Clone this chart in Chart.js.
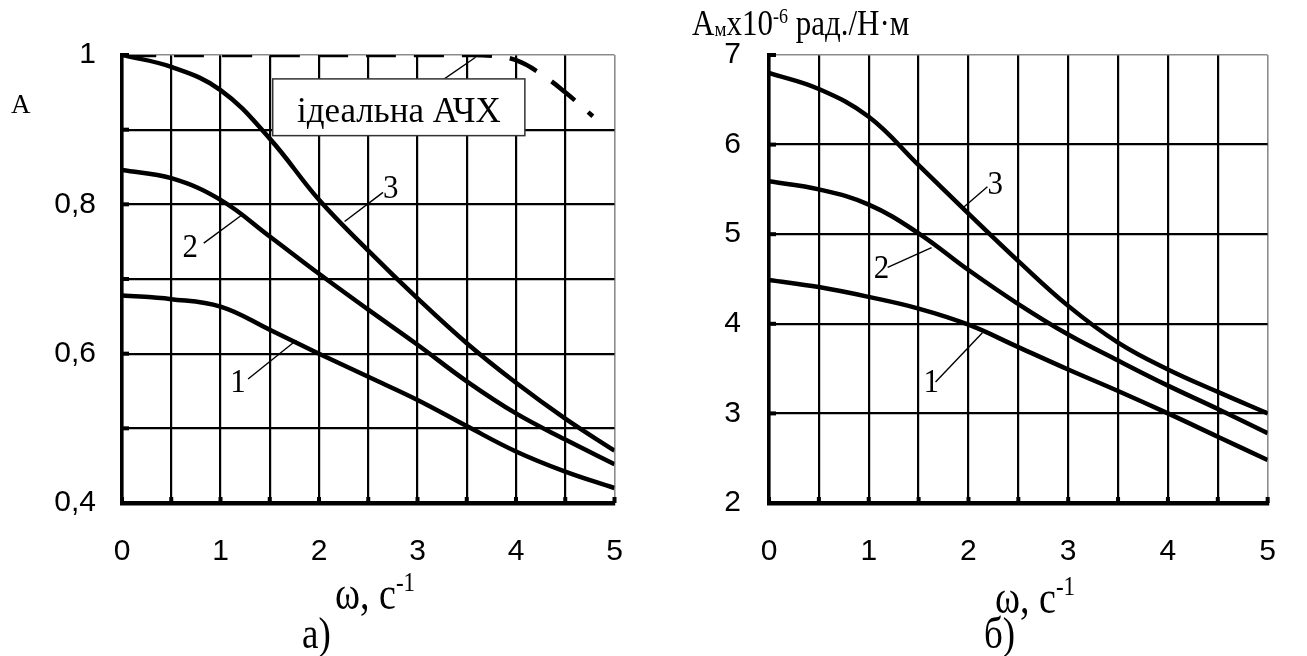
<!DOCTYPE html>
<html>
<head>
<meta charset="utf-8">
<script src="https://cdn.jsdelivr.net/npm/chart.js@4.4.1/dist/chart.umd.min.js"></script>
<style>
  html, body { margin: 0; padding: 0; background: #fff; }
  #wrap { position: relative; width: 1307px; height: 656px; overflow: hidden; }
  .panel { position: absolute; top: 0; height: 656px; }
  #pa { left: 0; width: 660px; }
  #pb { left: 660px; width: 647px; }
</style>
</head>
<body>
<div id="wrap">
  <div class="panel" id="pa"><canvas id="ca" width="660" height="656"></canvas></div>
  <div class="panel" id="pb"><canvas id="cb" width="647" height="656"></canvas></div>
</div>
<script>
// angular frequency grid, s^-1
const omega = [0, 0.5, 1, 1.5, 2, 2.5, 3, 3.5, 4, 4.5, 5];

// panel а): normalised amplitude A for curves 1..3
const curveA1 = [0.678, 0.673, 0.663, 0.632, 0.600, 0.569, 0.538, 0.503, 0.469, 0.442, 0.42];
const curveA2 = [0.846, 0.835, 0.806, 0.757, 0.707, 0.659, 0.612, 0.563, 0.520, 0.485, 0.452];
const curveA3 = [1.0, 0.984, 0.953, 0.888, 0.806, 0.738, 0.674, 0.614, 0.561, 0.513, 0.47];

// ideal amplitude-frequency response (dashed)
const idealOmega = [0, 1, 2, 3, 3.5, 3.75, 4, 4.25, 4.5, 4.78];
const idealA = [1, 1, 1, 1, 1, 0.999, 0.993, 0.975, 0.95, 0.918];

// panel б): A_м ×10^-6 rad/N·m for curves 1..3
const curveB1 = [4.49, 4.41, 4.30, 4.17, 3.99, 3.74, 3.49, 3.25, 3.0, 2.74, 2.48];
const curveB2 = [5.59, 5.50, 5.33, 5.01, 4.60, 4.22, 3.88, 3.59, 3.31, 3.05, 2.78];
const curveB3 = [6.80, 6.62, 6.31, 5.77, 5.23, 4.70, 4.20, 3.79, 3.49, 3.24, 3.0];

// tick labels
const xTickLabels = [0, 1, 2, 3, 4, 5];
const yTickLabelsA = [0.4, 0.6, 0.8, 1];
const yTickLabelsB = [2, 3, 4, 5, 6, 7];

const SANS = '"Liberation Sans", Arial, sans-serif';
const SERIF = '"Liberation Serif", "Times New Roman", serif';

function pairs(xs, ys) { return xs.map((x, i) => ({ x: x, y: ys[i] })); }
function near(a, b) { return Math.abs(a - b) < 1e-6; }

function lineSet(data, dash) {
  return {
    data: data,
    borderColor: '#000',
    borderWidth: 4.5,
    borderDash: dash || [],
    borderDashOffset: dash ? -4 : 0,
    pointRadius: 0,
    fill: false,
    tension: 0.4,
    borderCapStyle: 'butt'
  };
}

// text with optional raised parts, stretched vertically by sy about its baseline
function richText(ctx, x, baseline, parts, align, sy) {
  sy = sy || 1;
  ctx.save();
  ctx.fillStyle = '#000';
  ctx.textBaseline = 'alphabetic';
  ctx.textAlign = 'left';
  let w = 0;
  parts.forEach(p => { ctx.font = p.size + 'px ' + SERIF; w += ctx.measureText(p.t).width; });
  let cx = align === 'center' ? x - w / 2 : x;
  ctx.translate(0, baseline);
  ctx.scale(1, sy);
  parts.forEach(p => {
    ctx.font = p.size + 'px ' + SERIF;
    ctx.fillText(p.t, cx, -(p.dy || 0) / sy);
    cx += ctx.measureText(p.t).width;
  });
  ctx.restore();
}

function segment(ctx, a, b) {
  ctx.beginPath();
  ctx.moveTo(a[0], a[1]);
  ctx.lineTo(b[0], b[1]);
  ctx.stroke();
}

// short inward stubs on both axes at every grid line
const axisStubs = {
  id: 'axisStubs',
  beforeDatasetsDraw(chart) {
    const ctx = chart.ctx, xs = chart.scales.x, ys = chart.scales.y, a = chart.chartArea;
    ctx.save();
    ctx.fillStyle = '#000';
    xs.ticks.forEach(t => {
      const px = xs.getPixelForValue(t.value);
      ctx.fillRect(px - 2, a.bottom - 6, 4, 6);
    });
    ys.ticks.forEach(t => {
      const py = ys.getPixelForValue(t.value);
      ctx.fillRect(a.left, py - 2, 7, 4);
    });
    ctx.restore();
  }
};

// curve labels with leader lines, optional boxed caption, axis titles
function notesPlugin(cfg) {
  return {
    id: 'notes',
    afterDatasetsDraw(chart) {
      const ctx = chart.ctx, xs = chart.scales.x, ys = chart.scales.y;
      const P = (v) => [xs.getPixelForValue(v[0]), ys.getPixelForValue(v[1])];
      ctx.save();
      ctx.strokeStyle = '#000';
      ctx.lineWidth = 1.4;
      if (cfg.box) {
        const b = cfg.box;
        const p1 = P([b.x0, b.y0]), p2 = P([b.x1, b.y1]);
        segment(ctx, P(b.from), P(b.to));
        ctx.fillStyle = '#fff';
        ctx.fillRect(p1[0], p1[1], p2[0] - p1[0], p2[1] - p1[1]);
        ctx.strokeStyle = '#333';
        ctx.lineWidth = 1.5;
        ctx.strokeRect(p1[0], p1[1], p2[0] - p1[0], p2[1] - p1[1]);
        richText(ctx, (p1[0] + p2[0]) / 2, (p1[1] + p2[1]) / 2 + 15,
          [{ t: b.text, size: 35 }], 'center', 1.05);
      }
      ctx.strokeStyle = '#000';
      ctx.lineWidth = 1.4;
      cfg.labels.forEach(l => {
        segment(ctx, P(l.from), P(l.to));
        const at = P(l.at);
        richText(ctx, at[0], at[1], [{ t: l.t, size: 31 }], 'left', 1.1);
      });
      ctx.restore();
    },
    afterDraw(chart) {
      const ctx = chart.ctx;
      cfg.titles.forEach(t => richText(ctx, t.x, t.y, t.parts, 'left', t.sy));
    }
  };
}

function scalesFor(xmax, ymin, ymax, ystep, yLabels, fmt, yWidth, yPad) {
  const edgeColor = (v, m) => near(v, m) ? '#8c8c8c' : '#000';
  const edgeWidth = (v, m) => near(v, m) ? 1.6 : 2.2;
  return {
    x: {
      type: 'linear', min: 0, max: xmax,
      afterFit(s) { s.height = 153; },
      ticks: {
        stepSize: 0.5, autoSkip: false, maxRotation: 0, minRotation: 0,
        padding: 31, color: '#000', font: { family: SANS, size: 30 },
        callback: (v) => xTickLabels.some(t => near(t, v)) ? String(Math.round(v)) : ''
      },
      grid: {
        drawTicks: false,
        color: (c) => c.tick ? edgeColor(c.tick.value, xmax) : '#000',
        lineWidth: (c) => c.tick ? edgeWidth(c.tick.value, xmax) : 2.2
      },
      border: { color: '#000', width: 4.5 }
    },
    y: {
      type: 'linear', min: ymin, max: ymax,
      afterFit(s) { s.width = yWidth; },
      ticks: {
        stepSize: ystep, autoSkip: false, padding: yPad, color: '#000',
        font: { family: SANS, size: 30 },
        callback: (v) => {
          const hit = yLabels.find(t => near(t, v));
          return hit === undefined ? '' : fmt(hit);
        }
      },
      grid: {
        drawTicks: false,
        color: (c) => c.tick ? edgeColor(c.tick.value, ymax) : '#000',
        lineWidth: (c) => c.tick ? edgeWidth(c.tick.value, ymax) : 2.2
      },
      border: { color: '#000', width: 3.5 }
    }
  };
}

Chart.defaults.animation = false;

// ---- panel а) ----
new Chart(document.getElementById('ca'), {
  type: 'line',
  data: {
    datasets: [
      lineSet(pairs(idealOmega, idealA), [30, 18]),
      lineSet(pairs(omega, curveA1)),
      lineSet(pairs(omega, curveA2)),
      lineSet(pairs(omega, curveA3))
    ]
  },
  options: {
    responsive: false,
    layout: { padding: { left: 0, right: 45.5, top: 55, bottom: 0 } },
    plugins: { legend: { display: false }, tooltip: { enabled: false } },
    scales: scalesFor(5, 0.4, 1, 0.1, yTickLabelsA,
      (v) => v === 1 ? '1' : v.toFixed(1).replace('.', ','), 122, 26)
  },
  plugins: [axisStubs, notesPlugin({
    box: { x0: 1.53, y0: 0.968, x1: 4.09, y1: 0.892, text: 'ідеальна АЧХ',
           from: [3.14, 0.956], to: [3.59, 0.997] },
    labels: [
      { t: '3', at: [2.65, 0.809], from: [2.65, 0.816], to: [2.26, 0.777] },
      { t: '2', at: [0.615, 0.730], from: [0.83, 0.748], to: [1.22, 0.786] },
      { t: '1', at: [1.10, 0.548], from: [1.28, 0.566], to: [1.77, 0.618] }
    ],
    titles: [
      { x: 11, y: 113, sy: 1.05, parts: [{ t: 'A', size: 27 }] },
      { x: 335, y: 609, sy: 1.22, parts: [{ t: 'ω, с', size: 38 }, { t: '-1', size: 23, dy: 18 }] },
      { x: 302, y: 648, sy: 1.2, parts: [{ t: 'а)', size: 37 }] }
    ]
  })]
});

// ---- panel б) ----
new Chart(document.getElementById('cb'), {
  type: 'line',
  data: {
    datasets: [
      lineSet(pairs(omega, curveB1)),
      lineSet(pairs(omega, curveB2)),
      lineSet(pairs(omega, curveB3))
    ]
  },
  options: {
    responsive: false,
    layout: { padding: { left: 0, right: 20, top: 55, bottom: 0 } },
    plugins: { legend: { display: false }, tooltip: { enabled: false } },
    scales: scalesFor(5, 2, 7, 1, yTickLabelsB, (v) => String(v), 109, 28)
  },
  plugins: [axisStubs, notesPlugin({
    labels: [
      { t: '3', at: [2.19, 5.45], from: [2.19, 5.53], to: [1.94, 5.29] },
      { t: '2', at: [1.05, 4.51], from: [1.19, 4.63], to: [1.63, 4.85] },
      { t: '1', at: [1.55, 3.24], from: [1.67, 3.35], to: [2.14, 3.90] }
    ],
    titles: [
      { x: 32, y: 35, sy: 1.15, parts: [
        { t: 'A', size: 31 }, { t: 'м', size: 19, dy: -1 }, { t: 'x10', size: 31 },
        { t: '-6', size: 18, dy: 12 }, { t: ' рад./Н·м', size: 31 }
      ] },
      { x: 335, y: 613, sy: 1.22, parts: [{ t: 'ω, с', size: 38 }, { t: '-1', size: 23, dy: 18 }] },
      { x: 324, y: 648, sy: 1.2, parts: [{ t: 'б)', size: 37 }] }
    ]
  })]
});
</script>
</body>
</html>
